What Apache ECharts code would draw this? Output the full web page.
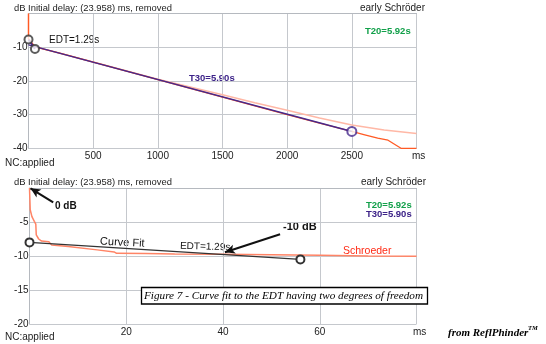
<!DOCTYPE html>
<html><head><meta charset="utf-8">
<script src="https://cdn.jsdelivr.net/npm/echarts@6/dist/echarts.min.js"></script>
<style>html,body{margin:0;padding:0;background:#fff}#c{width:546px;height:344px}</style>
</head><body><div id="c"></div><script>
// ---------- top chart data (ms, dB) ----------
const topSchroT  = [0, 0, 50, 250, 500, 750, 1000, 1250, 1500, 1750, 2000, 2250, 2500, 2600, 2700, 2780, 2880, 3000];
const topSchroDb = [0, -7.5, -9.9, -11.8, -14.4, -17.0, -19.6, -22.2, -24.8, -27.4, -30.0, -32.5, -35.0, -36.0, -37.0, -37.6, -40, -40];
const topEarlyT  = [0, 0, 50, 500, 1000, 1250, 1500, 1750, 2000, 2250, 2500, 2750, 3000];
const topEarlyDb = [0, -7.5, -9.9, -14.4, -19.5, -21.8, -24.1, -26.5, -28.7, -31.0, -33.1, -34.6, -35.6];
const topT30T    = [0, 2500];
const topT30Db   = [-9.3, -35.0];
const topEdtT    = [0, 50];
const topEdtDb   = [-7.7, -10.5];
const topMarksT  = [0, 50];
const topMarksDb = [-7.7, -10.5];
const topT30MarkT = [2500];
const topT30MarkDb = [-35.0];
const topXTicks = [0, 500, 1000, 1500, 2000, 2500, 3000];
const topYTicks = [0, -10, -20, -30, -40];

// ---------- bottom chart data (ms, dB) ----------
const botSchroT  = [0, 0.15, 0.5, 1.0, 1.3, 1.4, 1.9, 2.5, 4.0, 4.6, 8.0, 14.0, 17.5, 18.0, 24, 30, 40, 50, 60, 70, 80];
const botSchroDb = [0, -3.2, -4.2, -4.9, -5.3, -6.9, -7.5, -7.8, -7.9, -8.4, -8.6, -9.1, -9.4, -9.6, -9.65, -9.7, -9.75, -9.8, -9.9, -10.0, -10.05];
const botFitT    = [0, 56];
const botFitDb   = [-8.0, -10.5];
const botXTicks = [0, 20, 40, 60, 80];
const botYTicks = [0, -5, -10, -15, -20];

const zip = (a, b) => a.map((v, i) => [v, b[i]]);

const gridColor = '#c5c8cd';
const font = 'Liberation Sans, Arial, sans-serif';
const serif = 'Liberation Serif, Times New Roman, serif';
const labelColor = '#222';

function xAx(gi, ticks) {
  const mn = ticks[0], mx = ticks[ticks.length - 1];
  return {
    gridIndex: gi, type: 'value', min: mn, max: mx, interval: ticks[1] - ticks[0],
    axisLine: { show: true, lineStyle: { color: '#b5b9bf', width: 1 } },
    axisTick: { show: false },
    splitLine: { show: true, lineStyle: { color: gridColor, width: 1 } },
    axisLabel: { fontFamily: font, fontSize: 10, color: labelColor, margin: 3,
      formatter: v => (v === mn || v === mx) ? '' : String(v) }
  };
}
function yAx(gi, ticks) {
  const mx = ticks[0], mn = ticks[ticks.length - 1];
  return {
    gridIndex: gi, type: 'value', min: mn, max: mx, interval: ticks[0] - ticks[1],
    axisLine: { show: true, onZero: false, lineStyle: { color: '#b5b9bf', width: 1 } },
    axisTick: { show: false },
    splitLine: { show: true, lineStyle: { color: gridColor, width: 1 } },
    axisLabel: { fontFamily: font, fontSize: 10, color: labelColor, margin: 1,
      formatter: v => v === mx ? '' : String(v) }
  };
}
function txt(x, y, s, o) {
  return { type: 'text', x: x, y: y, style: Object.assign({
    text: s, fontFamily: font, fontSize: 10, fill: '#222', textVerticalAlign: 'middle', textAlign: 'left'
  }, o || {}) };
}

const chart = echarts.init(document.getElementById('c'), null, { renderer: 'canvas' });
chart.setOption({
  animation: false,
  backgroundColor: '#ffffff',
  grid: [
    { left: 28.5, top: 13.5, width: 388, height: 134.8 },
    { left: 29.5, top: 188, width: 387, height: 136 }
  ],
  xAxis: [xAx(0, topXTicks), xAx(1, botXTicks)],
  yAxis: [yAx(0, topYTicks), yAx(1, botYTicks)],
  series: [
    { type: 'line', xAxisIndex: 0, yAxisIndex: 0, data: zip(topEarlyT, topEarlyDb), showSymbol: false,
      lineStyle: { color: '#ffb8a6', width: 1.5 }, z: 2 },
    { type: 'line', xAxisIndex: 0, yAxisIndex: 0, data: zip(topSchroT, topSchroDb), showSymbol: false,
      lineStyle: { color: '#ff5a24', width: 1.3 }, z: 3 },
    { type: 'line', xAxisIndex: 0, yAxisIndex: 0, data: zip(topT30T, topT30Db), showSymbol: false,
      lineStyle: { color: '#46288c', width: 1.4 }, z: 4 },
    { type: 'line', xAxisIndex: 0, yAxisIndex: 0, data: zip(topEdtT, topEdtDb), showSymbol: false,
      lineStyle: { color: '#46288c', width: 2 }, z: 4 },
    { type: 'scatter', xAxisIndex: 0, yAxisIndex: 0, data: zip(topMarksT, topMarksDb), symbol: 'emptyCircle', symbolSize: 8,
      itemStyle: { color: '#333', borderColor: '#333', borderWidth: 1 }, z: 5 },
    { type: 'scatter', xAxisIndex: 0, yAxisIndex: 0, data: zip(topT30MarkT, topT30MarkDb), symbol: 'emptyCircle', symbolSize: 9,
      itemStyle: { color: '#46288c', borderColor: '#46288c', borderWidth: 1 }, z: 5 },

    { type: 'line', xAxisIndex: 1, yAxisIndex: 1, data: zip(botSchroT, botSchroDb), showSymbol: false,
      lineStyle: { color: '#ff8466', width: 1.5 }, z: 2 },
    { type: 'line', xAxisIndex: 1, yAxisIndex: 1, data: zip(botFitT, botFitDb), showSymbol: true, symbol: 'emptyCircle', symbolSize: 8,
      itemStyle: { color: '#333', borderColor: '#333', borderWidth: 1 },
      lineStyle: { color: '#333', width: 1.4 }, z: 4,
      markLine: { silent: true, symbol: ['none', 'arrow'], symbolSize: [7, 10], label: { show: false },
        lineStyle: { color: '#111', width: 2, type: 'solid' },
        data: [
          [{ coord: [4.9, -2.1] }, { coord: [0.2, -0.05] }],
          [{ coord: [51.8, -6.8] }, { coord: [40.4, -9.45] }]
        ] } }
  ],
  graphic: [
    txt(14, 8, 'dB Initial delay: (23.958) ms, removed', { fontSize: 9.4 }),
    txt(425, 8, 'early Schröder', { textAlign: 'right' }),
    txt(365, 31.5, 'T20=5.92s', { fill: '#12a04a', fontWeight: 'bold', fontSize: 9.5 }),
    txt(49, 40, 'EDT=1.29s', { fill: '#111' }),
    txt(189, 78.5, 'T30=5.90s', { fill: '#3c2288', fontWeight: 'bold', fontSize: 9.5 }),
    txt(412, 156, 'ms'),
    txt(5, 163, 'NC:applied'),

    txt(14, 182, 'dB Initial delay: (23.958) ms, removed', { fontSize: 9.4 }),
    txt(426, 182, 'early Schröder', { textAlign: 'right' }),
    txt(366, 205, 'T20=5.92s', { fill: '#12a04a', fontWeight: 'bold', fontSize: 9.5 }),
    txt(366, 214.5, 'T30=5.90s', { fill: '#3c2288', fontWeight: 'bold', fontSize: 9.5 }),
    txt(55, 206, '0 dB', { fontWeight: 'bold', fill: '#111' }),
    { type: 'text', x: 100, y: 241.5, rotation: -0.05, style: { text: 'Curve Fit', fontFamily: font, fontSize: 11, fill: '#111', textVerticalAlign: 'middle' } },
    { type: 'text', x: 180, y: 246, rotation: -0.03, style: { text: 'EDT=1.29s', fontFamily: font, fontSize: 10, fill: '#111', textVerticalAlign: 'middle' } },
    txt(283, 227, '-10 dB', { fontWeight: 'bold', fill: '#111', fontSize: 11 }),
    txt(343, 251, 'Schroeder', { fill: '#ff2a14', fontSize: 10.5 }),
    { type: 'rect', shape: { x: 141.5, y: 287.5, width: 286, height: 16.5 }, style: { fill: '#fff', stroke: '#000', lineWidth: 1.3 }, z: 100 },
    { type: 'text', x: 144, y: 296, z: 101, style: { text: 'Figure 7 - Curve fit to the EDT having two degrees of freedom', fontFamily: serif, fontStyle: 'italic', fontSize: 11.2, fill: '#000', textVerticalAlign: 'middle' } },
    txt(413, 332, 'ms'),
    txt(5, 337, 'NC:applied'),
    { type: 'text', x: 448, y: 333, style: { text: 'from ReflPhinder', fontFamily: serif, fontStyle: 'italic', fontWeight: 'bold', fontSize: 11, fill: '#000', textVerticalAlign: 'middle' } },
    { type: 'text', x: 528, y: 328.5, style: { text: 'TM', fontFamily: serif, fontStyle: 'italic', fontWeight: 'bold', fontSize: 6.5, fill: '#000', textVerticalAlign: 'middle' } }
  ]
});
</script></body></html>
